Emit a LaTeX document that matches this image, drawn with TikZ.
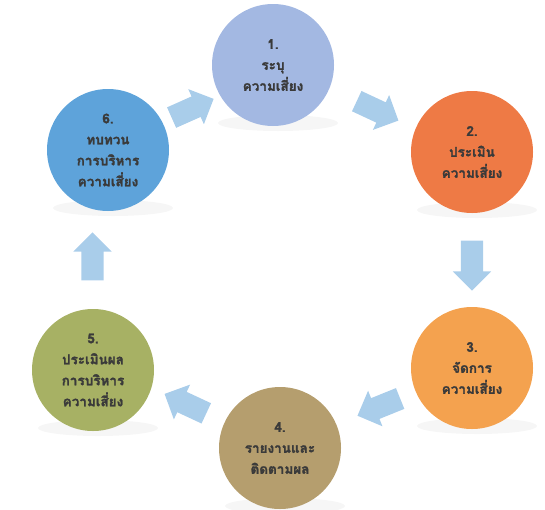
\documentclass[tikz,border=0pt]{standalone}
\usepackage{fontspec}
\newfontfamily\thaifont[Script=Thai, BoldFeatures={FakeBold=1.6}]{Loma}
\usetikzlibrary{shapes.arrows,calc}
\definecolor{cA}{HTML}{A3B8E2}
\definecolor{cB}{HTML}{EE7A45}
\definecolor{cC}{HTML}{F4A24F}
\definecolor{cD}{HTML}{B59E6E}
\definecolor{cE}{HTML}{A7B164}
\definecolor{cF}{HTML}{5EA3DA}
\definecolor{arr}{HTML}{A9CDEA}
\definecolor{txt}{HTML}{3A3A3A}
\tikzset{
  stage/.style={circle, minimum size=122pt, inner sep=0pt, align=center,
    text=txt, font=\thaifont\bfseries\fontsize{13.5}{21}\selectfont},
  blockarrow/.style={single arrow, fill=arr, draw=none, minimum height=46pt,
    minimum width=38pt, single arrow head extend=8pt, single arrow head indent=0pt,
    inner xsep=0pt, inner ysep=11pt, text width=0pt, text height=0pt, text depth=0pt},
  shade/.style={fill=black!10, opacity=0.35}
}
\begin{document}
\begin{tikzpicture}[x=1pt,y=-1pt]
\useasboundingbox (0,0) rectangle (545,509);
% shadows
\foreach \cx/\cy in {273/65,472/152,472/368,280/448,93/370,108/150}
  \fill[shade] (\cx+5,\cy+58) ellipse (60 and 8);
% circles
\node[stage, fill=cA] (s1) at (273,65) {1.\\ระบุ\\ความเสี่ยง};
\node[stage, fill=cB] (s2) at (472,152) {2.\\ประเมิน\\ความเสี่ยง};
\node[stage, fill=cC] (s3) at (472,368) {3.\\จัดการ\\ความเสี่ยง};
\node[stage, fill=cD] (s4) at (280,448) {4.\\รายงานและ\\ติดตามผล};
\node[stage, fill=cE] (s5) at (93,370) {5.\\ประเมินผล\\การบริหาร\\ความเสี่ยง};
\node[stage, fill=cF] (s6) at (108,150) {6.\\ทบทวน\\การบริหาร\\ความเสี่ยง};
% arrows
\node[blockarrow, rotate=24] (a61) at ($(s6)!0.5!(s1)+(-3,3)$) {};
\node[blockarrow, rotate=-25] (a12) at ($(s1)!0.5!(s2)$) {};
\node[blockarrow, rotate=-90, minimum height=50pt] (a23) at ($(s2)!0.5!(s3)$) {};
\node[blockarrow, rotate=202] (a34) at ($(s3)!0.5!(s4)+(8,-3)$) {};
\node[blockarrow, rotate=155] (a45) at ($(s4)!0.5!(s5)+(4,-3)$) {};
\node[blockarrow, rotate=90, minimum height=48pt] (a56) at ($(s5)!0.5!(s6)+(-8,2)$) {};
\end{tikzpicture}
\end{document}
